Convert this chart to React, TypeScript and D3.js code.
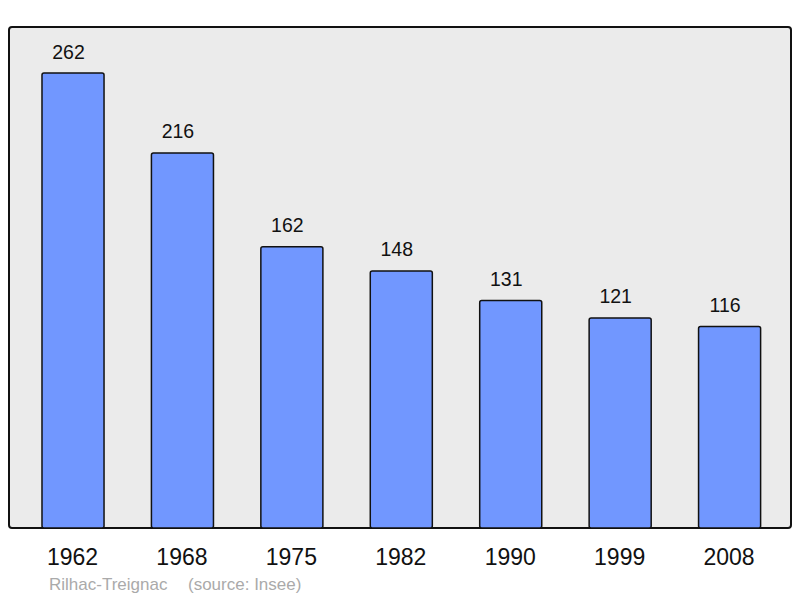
import React from "react";
import * as d3 from "d3";

const years = ["1962", "1968", "1975", "1982", "1990", "1999", "2008"];
const population = [262, 216, 162, 148, 131, 121, 116];
const commune = "Rilhac-Treignac";
const source = "(source: Insee)";

export default function App() {
  const W = 800, H = 598;
  const plot = { x0: 9, y0: 27, x1: 791, y1: 528 };
  const x = d3.scaleBand<string>().domain(years).range([18.3, 784.3]).paddingInner(0.433).paddingOuter(0.2165);
  const y = d3.scaleLinear().domain([0, 288.5]).range([plot.y1, plot.y0]);
  const font = "'Liberation Sans', Arial, sans-serif";
  return (
    <svg width={W} height={H} style={{ position: "absolute", left: 0, top: 0 }} fontFamily={font}>
      <rect x={0} y={0} width={W} height={H} fill="#ffffff" />
      <rect x={plot.x0} y={plot.y0} width={plot.x1 - plot.x0} height={plot.y1 - plot.y0} rx={3} fill="#ebebeb" stroke="#111" strokeWidth={2} />
      {years.map((yr, i) => {
        const bx = x(yr)!;
        const by = y(population[i]);
        const cx = bx + x.bandwidth() / 2;
        return (
          <g key={yr}>
            <rect x={bx} y={by} width={x.bandwidth()} height={plot.y1 - by} rx={2} fill="#7197ff" stroke="#111" strokeWidth={1.5} />
            <text x={cx - 4.5} y={by - 14.5} textAnchor="middle" fontSize={19.5} fill="#111">{population[i]}</text>
            <text x={cx - 0.5} y={565} textAnchor="middle" fontSize={23} fill="#111">{yr}</text>
          </g>
        );
      })}
      <text x={49} y={590} fontSize={17} fill="#aaaaaa">{commune}</text>
      <text x={188} y={590} fontSize={17} fill="#aaaaaa">{source}</text>
    </svg>
  );
}
